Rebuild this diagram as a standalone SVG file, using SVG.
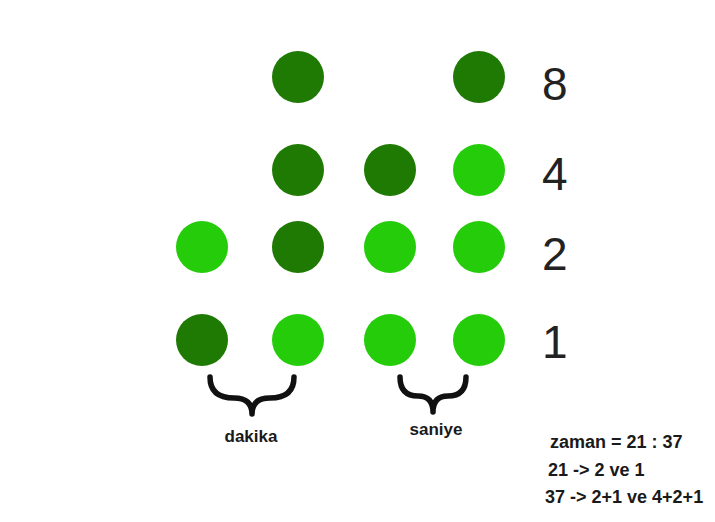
<svg xmlns="http://www.w3.org/2000/svg" width="715" height="522" viewBox="0 0 715 522">
<style>
.d{fill:#1f7a03}
.l{fill:#24cc0a}
.num{font-family:"Liberation Sans",Arial,sans-serif;font-size:46px;fill:#222}
.br{fill:none;stroke:#111;stroke-width:5.5;stroke-linecap:round;stroke-linejoin:round}
.lab{font-family:"Liberation Sans",Arial,sans-serif;font-weight:bold;font-size:17px;fill:#1a1a1a}
.eq{font-family:"Liberation Sans",Arial,sans-serif;font-weight:bold;font-size:18px;fill:#1a1a1a}
</style>
<rect width="715" height="522" fill="#fff"/>
<g id="row8">
<circle class="d" cx="298" cy="77" r="26"/>
<circle class="d" cx="479" cy="77" r="26"/>
<text class="num" x="542" y="100">8</text>
</g>
<g id="row4">
<circle class="d" cx="298" cy="170" r="26"/>
<circle class="d" cx="390" cy="170" r="26"/>
<circle class="l" cx="479" cy="170" r="26"/>
<text class="num" x="542" y="190">4</text>
</g>
<g id="row2">
<circle class="l" cx="202" cy="247" r="26"/>
<circle class="d" cx="298" cy="247" r="26"/>
<circle class="l" cx="390" cy="247" r="26"/>
<circle class="l" cx="479" cy="247" r="26"/>
<text class="num" x="542" y="270">2</text>
</g>
<g id="row1">
<circle class="d" cx="202" cy="340" r="26"/>
<circle class="l" cx="298" cy="340" r="26"/>
<circle class="l" cx="390" cy="340" r="26"/>
<circle class="l" cx="479" cy="340" r="26"/>
<text class="num" x="542" y="358">1</text>
</g>
<g id="dakika">
<path class="br" d="M210,377 Q210,398 234,398 Q252,398 252,414 Q252,398 270,398 Q294,398 294,377"/>
<text class="lab" x="251" y="442" text-anchor="middle">dakika</text>
</g>
<g id="saniye">
<path class="br" d="M400,377 Q400,396 418,396 Q433,396 433,412 Q433,396 448,396 Q466,396 466,377"/>
<text class="lab" x="436" y="435" text-anchor="middle">saniye</text>
</g>
<g id="equations">
<text class="eq" x="550" y="448">zaman = 21 : 37</text>
<text class="eq" x="548" y="476">21 -&gt; 2 ve 1</text>
<text class="eq" x="545" y="503">37 -&gt; 2+1 ve 4+2+1</text>
</g>
</svg>
